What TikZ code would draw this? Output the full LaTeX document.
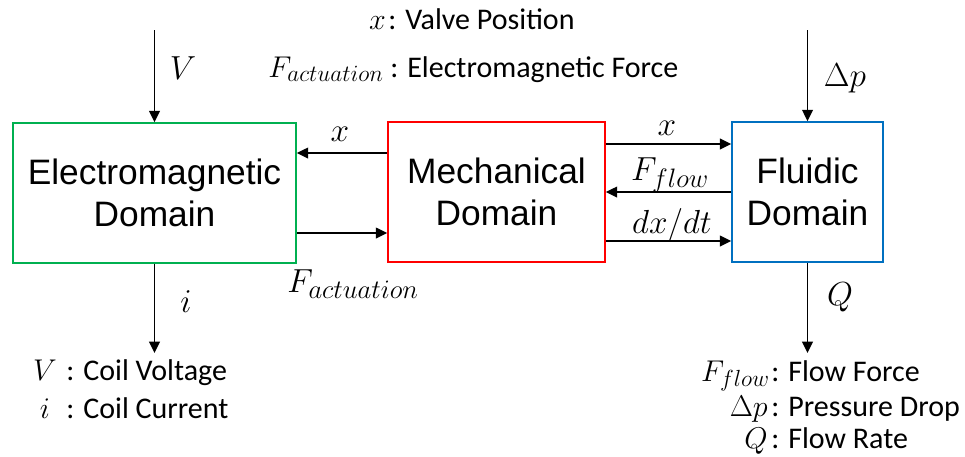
\RequirePackage{fix-cm}
\documentclass[tikz,border=0pt]{standalone}
\usepackage{fontspec}
\setmainfont{Carlito}
\newfontfamily\arialf{Liberation Sans}
\usetikzlibrary{arrows.meta}
\DeclareMathSizes{22.5}{22.5}{17.5}{14}
\DeclareMathSizes{25}{25}{20}{15}
\definecolor{emgreen}{RGB}{0,176,80}
\definecolor{mechred}{RGB}{255,0,0}
\definecolor{fluidblue}{RGB}{0,112,192}
\begin{document}
\begin{tikzpicture}[x=0.75pt,y=-0.75pt,
  domainbox/.style={draw, line width=1.3pt, align=center, inner sep=0pt,
    font=\arialf\fontsize{26.5}{32}\selectfont},
  conn/.style={-{Triangle[length=8.5pt,width=8pt]}, line width=1.4pt},
  lab/.style={inner sep=0pt, font=\fontsize{25}{30}\selectfont},
  leg/.style={inner sep=0pt, font=\fontsize{22.5}{27}\selectfont}]
\useasboundingbox (0,0) rectangle (965,457);

% domains
\node[domainbox, draw=emgreen, minimum width=212.25pt, minimum height=105pt] (em) at (154.5,193) {Electromagnetic\\Domain};
\node[domainbox, draw=mechred, minimum width=162.75pt, minimum height=105pt] (mech) at (496.5,192) {Mechanical\\Domain};
\node[domainbox, draw=fluidblue, minimum width=113.25pt, minimum height=105pt] (fl) at (807.5,192) {Fluidic\\Domain};

% external inputs / outputs
\coordinate (vtop) at (154.5,30);
\coordinate (ptop) at (807.5,30);
\coordinate (ibot) at (154.5,353);
\coordinate (qbot) at (807.5,353);
\draw[conn] (vtop) -- (em.north);
\draw[conn] (ptop) -- (fl.north);
\draw[conn] (em.south) -- (ibot);
\draw[conn] (fl.south) -- (qbot);

% couplings
\draw[conn] (mech.west |- 0,153) -- (em.east |- 0,153);
\draw[conn] (em.east |- 0,233) -- (mech.west |- 0,233);
\draw[conn] (mech.east |- 0,144) -- (fl.west |- 0,144);
\draw[conn] (fl.west |- 0,192) -- (mech.east |- 0,192);
\draw[conn] (mech.east |- 0,241) -- (fl.west |- 0,241);

% arrow labels
\node[lab] (lV) at (183,68) {$V$};
\node[lab] (lDp) at (845,78) {$\Delta p$};
\node[lab] (lx1) at (340,134) {$x$};
\node[lab] (lFa) at (353,284) {$F_{actuation}$};
\node[lab] (lx2) at (667,128) {$x$};
\node[lab] (lFf) at (670,175) {$F_{flow}$};
\node[lab] (ldx) at (672,225) {$dx/dt$};
\node[lab] (li) at (186,302) {$i$};
\node[lab] (lQ) at (840,297) {$Q$};

% top legend
\node[leg, anchor=base east] (tx) at (386,29) {$x$};
\node[leg, anchor=base west] (tt1) at (388,29) {: Valve Position};
\node[leg, anchor=base east] (tF) at (384,77) {$F_{actuation}$};
\node[leg, anchor=base west] (tt2) at (390,77) {: Electromagnetic Force};

% bottom-left legend
\node[leg, anchor=base] (bV) at (45,380) {$V$};
\node[leg, anchor=base west] (bt1) at (66,380) {: Coil Voltage};
\node[leg, anchor=base] (bi) at (45,418) {$i$};
\node[leg, anchor=base west] (bt2) at (66,418) {: Coil Current};

% bottom-right legend
\node[leg, anchor=base east] (rF) at (770,381) {$F_{flow}$};
\node[leg, anchor=base west] (rt1) at (771,381) {: Flow Force};
\node[leg, anchor=base east] (rp) at (768,416) {$\Delta p$};
\node[leg, anchor=base west] (rt2) at (771,416) {: Pressure Drop};
\node[leg, anchor=base east] (rQ) at (768,448) {$Q$};
\node[leg, anchor=base west] (rt3) at (771,448) {: Flow Rate};
\end{tikzpicture}
\end{document}
